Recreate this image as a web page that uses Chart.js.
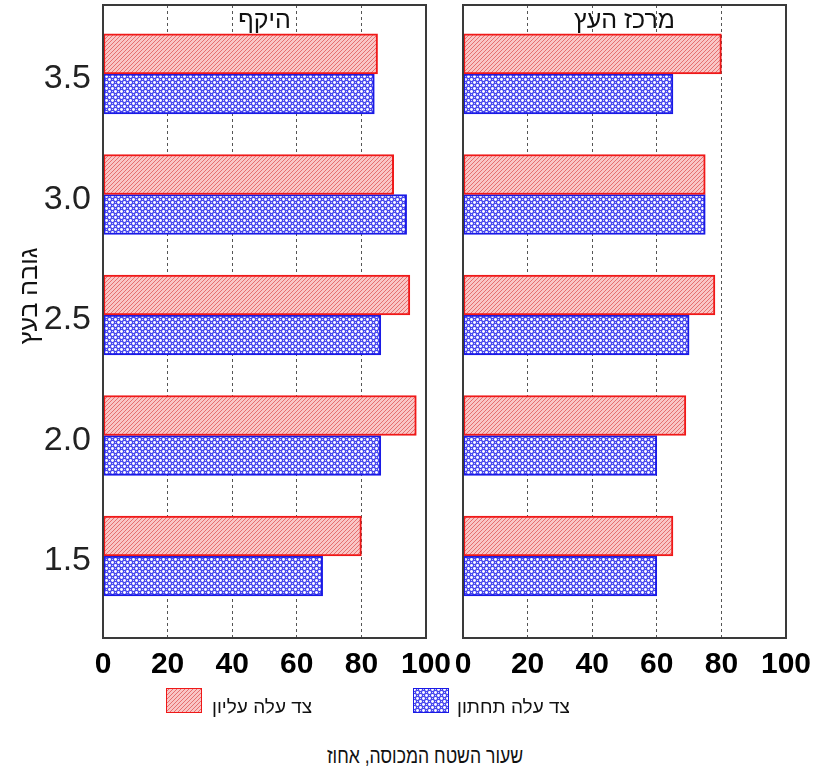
<!DOCTYPE html>
<html lang="he">
<head>
<meta charset="utf-8">
<title>שעור השטח המכוסה</title>
<script src="https://cdn.jsdelivr.net/npm/chart.js@4.4.1/dist/chart.umd.min.js"></script>
<style>
  html, body { margin: 0; padding: 0; background: #fff; }
  body { width: 819px; height: 776px; position: relative; overflow: hidden;
         font-family: 'Liberation Sans', 'DejaVu Sans', sans-serif; color: #111; }
  canvas.panel { position: absolute; top: 0; }
  #cPerim { left: 0; }
  #cCenter { left: 440px; }
  canvas.sw { position: absolute; top: 688px; }
  .lg { position: absolute; top: 697px; font-size: 19px; line-height: 19px; white-space: nowrap; }
  #xTitle { position: absolute; left: 125px; width: 600px; top: 745px; text-align: center;
            font-size: 22px; line-height: 22px; white-space: nowrap;
            transform: scaleX(0.8); transform-origin: 300px 0; }
</style>
</head>
<body>
<canvas id="cPerim" class="panel" width="455" height="700"></canvas>
<canvas id="cCenter" class="panel" width="379" height="700"></canvas>

<canvas id="swUpper" class="sw" width="36" height="25" style="left:166px"></canvas>
<div id="lgUpper" class="lg" dir="rtl" style="left:212px"></div>
<canvas id="swLower" class="sw" width="36" height="25" style="left:413px"></canvas>
<div id="lgLower" class="lg" dir="rtl" style="left:457px"></div>
<div id="xTitle" dir="rtl"></div>

<script>
// Heights in the tree (metres) and the covered-area share (%) per leaf side
const heights = [3.5, 3.0, 2.5, 2.0, 1.5];
const perimUpper  = [85, 90, 95, 97, 80];
const perimLower  = [84, 94, 86, 86, 68];
const centerUpper = [80, 75, 78, 69, 65];
const centerLower = [65, 75, 70, 60, 60];
const xTicks = [0, 20, 40, 60, 80, 100];

const panelTitles = ['היקף', 'מרכז העץ'];
const seriesNames = ['צד עלה עליון', 'צד עלה תחתון'];
const yTitle = 'גובה בעץ';
const xTitle = 'שעור השטח המכוסה, אחוז';

const UPPER_EDGE = '#f01818';
const LOWER_EDGE = '#1a1ae6';
const FONT = '"Liberation Sans", "DejaVu Sans", sans-serif';

// Diagonal-stripe fill for the upper leaf side
function stripePattern() {
  const c = document.createElement('canvas');
  c.width = 4; c.height = 4;
  const g = c.getContext('2d');
  g.fillStyle = '#f9c6c6';
  g.fillRect(0, 0, 4, 4);
  g.strokeStyle = '#e26666';
  g.lineWidth = 0.9;
  g.beginPath();
  g.moveTo(-1, 5); g.lineTo(5, -1);
  g.moveTo(-3, 3); g.lineTo(3, -3);
  g.moveTo(1, 7); g.lineTo(7, 1);
  g.stroke();
  return g.createPattern(c, 'repeat');
}

// Dotted cross-hatch fill for the lower leaf side
function dotPattern() {
  const c = document.createElement('canvas');
  c.width = 6; c.height = 6;
  const g = c.getContext('2d');
  g.fillStyle = '#4646ee';
  g.fillRect(0, 0, 6, 6);
  g.fillStyle = '#ffffff';
  for (const [cx, cy] of [[1.5, 1.5], [4.5, 4.5]]) {
    g.beginPath();
    g.arc(cx, cy, 1.45, 0, Math.PI * 2);
    g.fill();
  }
  g.fillStyle = '#c8c8fa';
  g.fillRect(4, 1, 1, 1);
  g.fillRect(1, 4, 1, 1);
  return g.createPattern(c, 'repeat');
}

const upperFill = stripePattern();
const lowerFill = dotPattern();

// Frame around each panel, its heading inside the plot area, and the
// vertical axis title for the left panel
const panelFrame = {
  id: 'panelFrame',
  afterDraw(chart, args, opts) {
    const { ctx, chartArea: a } = chart;
    ctx.save();
    ctx.strokeStyle = '#3a3a3a';
    ctx.lineWidth = 2;
    ctx.strokeRect(a.left, a.top, a.right - a.left, a.bottom - a.top);
    ctx.fillStyle = '#111';
    ctx.font = '25px ' + FONT;
    ctx.textAlign = 'center';
    ctx.textBaseline = 'alphabetic';
    ctx.direction = 'rtl';
    ctx.fillText(opts.title, (a.left + a.right) / 2, a.top + 23);
    if (opts.yTitle) {
      ctx.translate(37, 296);
      ctx.rotate(-Math.PI / 2);
      ctx.font = '25px ' + FONT;
      ctx.fillText(opts.yTitle, 0, 0);
    }
    ctx.restore();
  }
};

function points(values) {
  return values.map((v, i) => ({ x: v, y: heights[i] }));
}

function makePanel(id, upper, lower, title, withYAxis, padding) {
  return new Chart(document.getElementById(id), {
    type: 'bar',
    data: {
      datasets: [
        { label: seriesNames[0], data: points(upper), backgroundColor: upperFill,
          borderColor: UPPER_EDGE, borderWidth: 2, borderSkipped: false },
        { label: seriesNames[1], data: points(lower), backgroundColor: lowerFill,
          borderColor: LOWER_EDGE, borderWidth: 2, borderSkipped: false }
      ]
    },
    options: {
      indexAxis: 'y',
      responsive: false,
      animation: false,
      devicePixelRatio: 1,
      barThickness: 40,
      layout: { padding },
      plugins: {
        legend: { display: false },
        tooltip: { enabled: false },
        panelFrame: { title, yTitle: withYAxis ? yTitle : null }
      },
      scales: {
        x: {
          type: 'linear',
          min: 0, max: 100,
          afterBuildTicks: s => { s.ticks = xTicks.map(v => ({ value: v })); },
          afterFit: s => { s.height = 62; s.paddingLeft = 0; s.paddingRight = 0; },
          ticks: {
            padding: 9,
            color: '#000',
            maxRotation: 0,
            minRotation: 0,
            autoSkip: false,
            font: { size: 30, weight: 'bold' }
          },
          grid: {
            drawTicks: false,
            lineWidth: 1,
            color: c => (c.tick && (c.tick.value === 0 || c.tick.value === 100)) ? 'rgba(0,0,0,0)' : '#555'
          },
          border: { display: false, dash: [3, 3] }
        },
        y: {
          type: 'linear',
          display: withYAxis,
          offset: false,
          min: 1.16, max: 3.786,
          bounds: 'data',
          afterBuildTicks: s => { s.ticks = heights.map(v => ({ value: v })); },
          afterFit: s => {
            if (withYAxis) s.width = 103;
            s.paddingTop = 0; s.paddingBottom = 0;
          },
          ticks: {
            padding: 12,
            labelOffset: 5,
            color: '#222',
            font: { size: 34 },
            callback: v => Number(v).toFixed(1)
          },
          grid: { display: false, drawTicks: false, offset: false },
          border: { display: false }
        }
      }
    },
    plugins: [panelFrame]
  });
}

Chart.defaults.font.family = FONT;

makePanel('cPerim', perimUpper, perimLower, panelTitles[0], true,
          { left: 0, top: 5, right: 29, bottom: 0 });
makePanel('cCenter', centerUpper, centerLower, panelTitles[1], false,
          { left: 23, top: 5, right: 33, bottom: 0 });

// Legend swatches and labels, x-axis title
function swatch(id, fill, edge) {
  const g = document.getElementById(id).getContext('2d');
  g.fillStyle = fill;
  g.fillRect(0, 0, 36, 25);
  g.strokeStyle = edge;
  g.lineWidth = 1;
  g.strokeRect(0.5, 0.5, 35, 24);
}
swatch('swUpper', stripePattern(), UPPER_EDGE);
swatch('swLower', dotPattern(), LOWER_EDGE);
document.getElementById('lgUpper').textContent = seriesNames[0];
document.getElementById('lgLower').textContent = seriesNames[1];
document.getElementById('xTitle').textContent = xTitle;
</script>
</body>
</html>
